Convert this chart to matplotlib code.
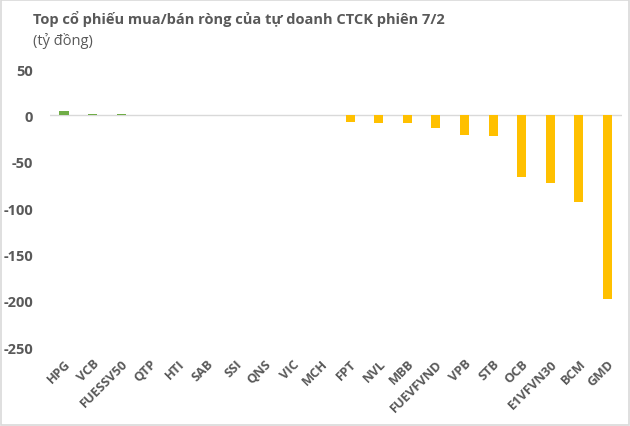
import matplotlib
matplotlib.use("Agg")
import matplotlib.pyplot as plt

# ma co phieu va gia tri mua/ban rong (ty dong)
tickers = ["HPG", "VCB", "FUESSV50", "QTP", "HTI", "SAB", "SSI", "QNS", "VIC", "MCH",
           "FPT", "NVL", "MBB", "FUEVFVND", "VPB", "STB", "OCB", "E1VFVN30", "BCM", "GMD"]
values = [4.5, 1.5, 1.5, 0.7, 0.5, 0.5, 0.1, 0.1, 0.05, 0.05,
          -7.5, -8, -8.5, -14, -21, -22, -66, -73, -94, -198]
yticks = [50, 0, -50, -100, -150, -200, -250]

plt.rcParams['font.family'] = ['Open Sans', 'DejaVu Sans']
text_color = '#595959'

fig = plt.figure(figsize=(6.3, 4.27), dpi=100)
ax = fig.add_axes([0.079, 0.185, 0.908, 0.651])

colors = ['#70AD47' if v > 0 else '#FFC000' for v in values]
x = list(range(len(tickers)))
ax.bar(x, values, width=0.32, color=colors, zorder=2)
ax.axhline(0, color='#d9d9d9', linewidth=1, zorder=1)

ax.set_ylim(-250, 50)
ax.set_xlim(-0.5, len(tickers) - 0.5)
ax.set_yticks(yticks)
ax.set_yticklabels([str(t) for t in yticks], fontsize=10.5, fontweight='bold', color=text_color)
ax.set_xticks(x)
ax.set_xticklabels(tickers, rotation=45, ha='right', rotation_mode='anchor',
                   fontsize=9.3, fontweight='bold', color=text_color)
ax.tick_params(axis='both', length=0)
ax.tick_params(axis='x', pad=7)
ax.tick_params(axis='y', pad=12)
for s in ax.spines.values():
    s.set_visible(False)

fig.text(0.052, 0.955, "Top cổ phiếu mua/bán ròng của tự doanh CTCK phiên 7/2",
         fontsize=10.5, fontweight='bold', color=text_color, va='center')
fig.text(0.052, 0.905, "(tỷ đồng)", fontsize=10.5, color=text_color, va='center')

# khung vien
fig.patches.append(plt.Rectangle((0.002, 0.003), 0.996, 0.994, transform=fig.transFigure,
                                 fill=False, edgecolor='#d9d9d9', linewidth=1.2))

fig.savefig("out.png", dpi=100)
